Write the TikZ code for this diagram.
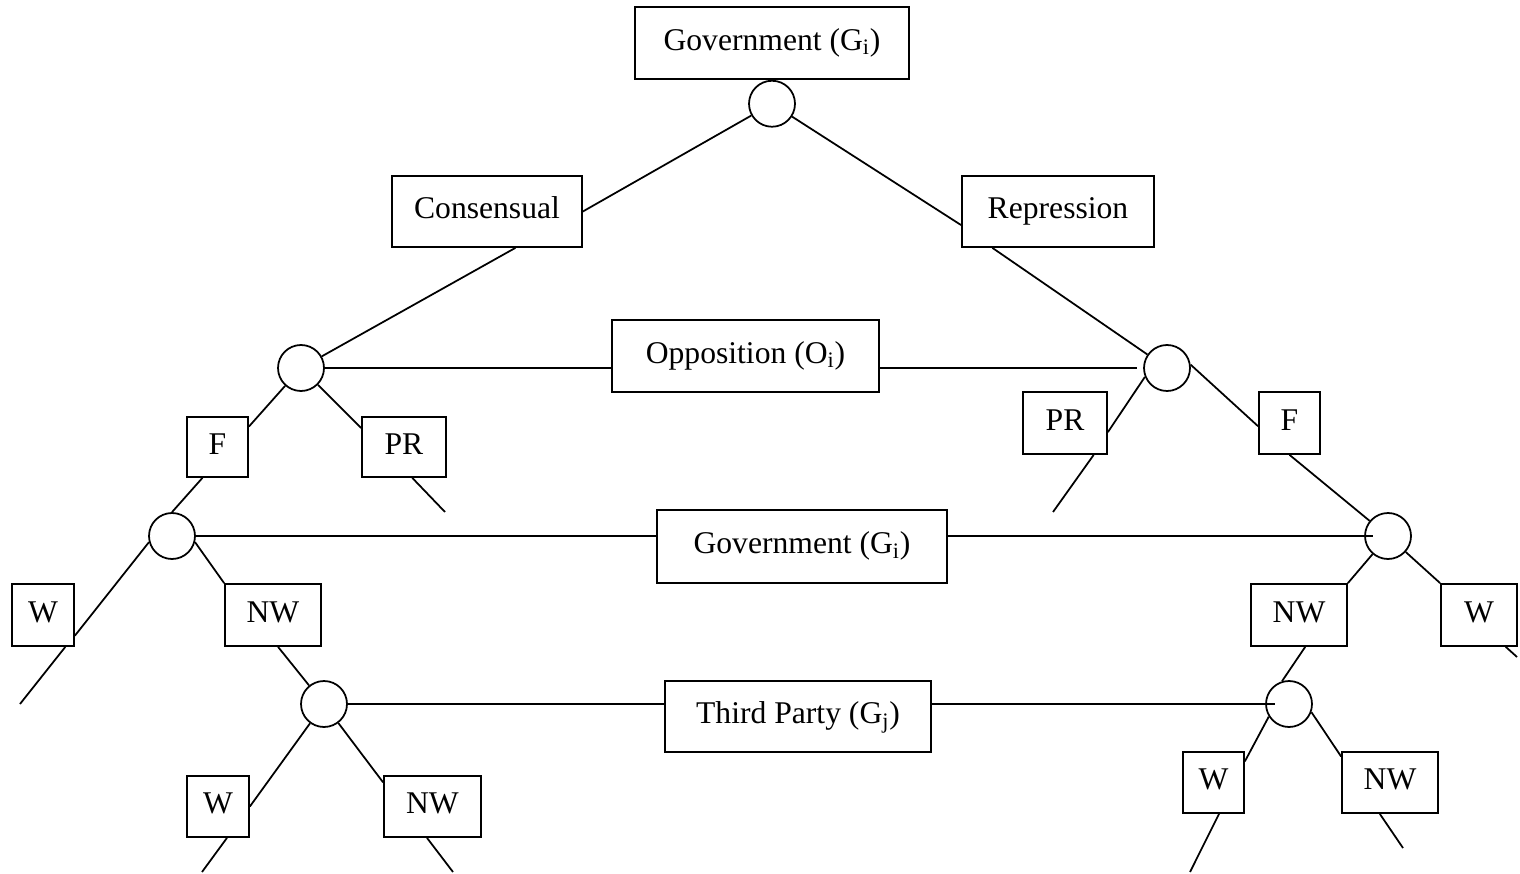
\documentclass[tikz,border=0pt]{standalone}
\usepackage{fontspec}
\setmainfont{Liberation Serif}
\usepackage{tikz}
\usetikzlibrary{positioning}

\begin{document}
\begin{tikzpicture}[x=0.02cm, y=-0.02cm, line width=1pt,
    box/.style={draw, rectangle, inner sep=0pt, minimum height=1.22cm, text height=12pt, text depth=4pt, font=\fontsize{18}{22}\selectfont},
    move/.style={draw, circle, inner sep=0pt, minimum size=0.92cm}]
    \useasboundingbox (0,0) rectangle (1520,874);

    % Level 1 (government chooses)
    \node (g0) [box, minimum width=5.48cm, minimum height=1.44cm] at (772,43) {Government (G\textsubscript{i})};
    \node (m0) [move, below=0pt of g0] {};
    \node (cons) [box, minimum width=3.8cm, minimum height=1.42cm] at (487,211.5) {Consensual};
    \node (repr) [box, minimum width=3.84cm, minimum height=1.42cm] at (1058,211.5) {Repression};
    \draw (m0) -- (cons.east);
    \draw (m0) -- (repr.-172);

    % Level 2 (opposition chooses)
    \node (b0) [move] at (301,368) {};
    \node (b1) [move] at (1167,368) {};
    \node (opp) [box, minimum width=5.34cm, minimum height=1.44cm] at (745.5,356) {Opposition (O\textsubscript{i})};
    \node (bf0) [box, minimum width=1.22cm, minimum height=1.2cm] at (217.5,447) {F};
    \node (bp0) [box, minimum width=1.68cm, minimum height=1.2cm] at (404,447) {PR};
    \node (bp1) [box, minimum width=1.68cm, minimum height=1.24cm] at (1065,423) {PR};
    \node (bf1) [box, minimum width=1.22cm, minimum height=1.24cm] at (1289.5,423) {F};
    \coordinate (e0) at (445,512);
    \coordinate (e1) at (1053,512);
    \draw (cons.-52) -- (b0);
    \draw (repr.-151) -- (b1);
    \draw (b0) -- (b0 -| opp.west);
    \draw[shorten >=0.12cm] (opp.east |- b1) -- (b1.west);
    \draw (b0) -- (bf0.33);
    \draw (b0) -- (bp0.156);
    \draw (bp0.-75) -- (e0);
    \draw (b1.-158) -- (bp1.-12);
    \draw (bp1.-48) -- (e1);
    \draw (b1.8) -- (bf1.-174);

    % Level 3 (government again)
    \node (c0) [move] at (172,536) {};
    \node (c1) [move] at (1388,536) {};
    \node (gov) [box, minimum width=5.8cm, minimum height=1.46cm] at (802,546.5) {Government (G\textsubscript{i})};
    \node (cw0) [box, minimum width=1.24cm, minimum height=1.24cm] at (43,615) {W};
    \node (cn0) [box, minimum width=1.92cm, minimum height=1.24cm] at (273,615) {NW};
    \node (cn1) [box, minimum width=1.92cm, minimum height=1.24cm] at (1299,615) {NW};
    \node (cw1) [box, minimum width=1.52cm, minimum height=1.24cm] at (1479,615) {W};
    \coordinate (e2) at (20,704);
    \coordinate (e3) at (1517,657);
    \draw (bf0.-116) -- (c0.north);
    \draw (bf1.south) -- (c1);
    \draw (c0) -- (c0 -| gov.west);
    \draw[shorten >=0.3cm] (gov.east |- c1) -- (c1.center);
    \draw (c0.-165) -- (cw0.-33);
    \draw (cw0.-55) -- (e2);
    \draw (c0.-15) -- (cn0.north west);
    \draw (c1) -- (cn1.north east);
    \draw (c1) -- (cw1.north west);
    \draw (cw1.-50) -- (e3);

    % Level 4 (third party)
    \node (d0) [move] at (324,704) {};
    \node (d1) [move] at (1289,704) {};
    \node (tp) [box, minimum width=5.32cm, minimum height=1.42cm] at (798,716.5) {Third Party (G\textsubscript{j})};
    \node (dw0) [box, minimum width=1.24cm, minimum height=1.22cm] at (218,806.5) {W};
    \node (dn0) [box, minimum width=1.94cm, minimum height=1.22cm] at (432.5,806.5) {NW};
    \node (dw1) [box, minimum width=1.22cm, minimum height=1.22cm] at (1213.5,782.5) {W};
    \node (dn1) [box, minimum width=1.92cm, minimum height=1.22cm] at (1390,782.5) {NW};
    \coordinate (e4) at (202,872);
    \coordinate (e5) at (453,872);
    \coordinate (e6) at (1190,872);
    \coordinate (e7) at (1403,848);
    \draw (cn0.-81) -- (d0);
    \draw (cn1.-79) -- (d1.107);
    \draw (d0) -- (d0 -| tp.west);
    \draw[shorten >=0.28cm] (tp.east |- d1) -- (d1.center);
    \draw (d0) -- (dw0.east);
    \draw (d0) -- (dn0.154);
    \draw (dw0.-74) -- (e4);
    \draw (dn0.-100) -- (e5);
    \draw (d1.-148) -- (dw1.34);
    \draw (d1.-20) -- (dn1.152);
    \draw (dw1.-80) -- (e6);
    \draw (dn1.-108) -- (e7);
\end{tikzpicture}
\end{document}
